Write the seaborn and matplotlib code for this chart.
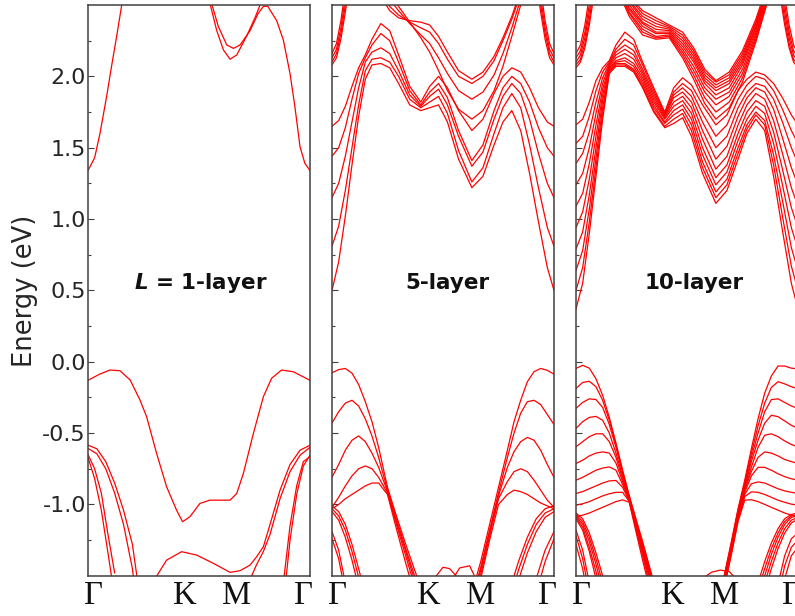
import numpy as np
import pandas as pd
import seaborn as sns
import matplotlib
matplotlib.use("Agg")
import matplotlib.pyplot as plt
from matplotlib.ticker import FixedLocator, FixedFormatter

# ---------------- text / ticks ----------------
k_labels = ["Γ", "K", "M", "Γ"]
k_label_pos = [0.025, 0.435, 0.67, 0.972]
ytick_vals = [-1.0, -0.5, 0.0, 0.5, 1.0, 1.5, 2.0]
ytick_text = ["-1.0", "-0.5", "0.0", "0.5", "1.0", "1.5", "2.0"]
yminor_vals = [-1.25, -0.75, -0.25, 0.25, 0.75, 1.25, 1.75, 2.25]
panel_titles = [r"$\mathbfit{L}$ = 1-layer", "5-layer", "10-layer"]
title_pos = [(0.509, 0.55), (0.518, 0.55), (0.53, 0.55)]

# ================= 1-layer =================
p1_cb_left_k = [0, .03, .054, .084, .106, .129, .155]
p1_cb_left_E = [1.34, 1.43, 1.60, 1.86, 2.07, 2.28, 2.53]
p1_cb_a_k = [.548, .58, .61, .64, .67, .714, .752, .78]
p1_cb_a_E = [2.52, 2.32, 2.185, 2.12, 2.15, 2.28, 2.41, 2.52]
p1_cb_b_k = [.555, .587, .625, .655, .685, .73, .766, .79, .81, .85, .88, .91, .932, .955, .977, 1.0]
p1_cb_b_E = [2.52, 2.35, 2.22, 2.196, 2.22, 2.32, 2.44, 2.49, 2.49, 2.39, 2.254, 2.02, 1.787, 1.507, 1.39, 1.34]

p1_vb_top_k = [0, .054, .099, .144, .19, .234, .264, .309, .354, .399, .426, .459, .504, .549,
               .64, .67, .70, .745, .79, .827, .872, .925, 1.0]
p1_vb_top_E = [-0.13, -0.086, -0.058, -0.063, -0.128, -0.268, -0.385, -0.642, -0.876, -1.04, -1.121,
               -1.086, -0.993, -0.97, -0.97, -0.923, -0.782, -0.502, -0.245, -0.116, -0.058, -0.07, -0.13]
p1_vb_k_k = [.31, .354, .422, .49, .565, .64, .685, .73, .76, .79, .82, .865, .91, .955, 1.0]
p1_vb_k_E = [-1.50, -1.39, -1.331, -1.355, -1.413, -1.476, -1.464, -1.425, -1.366, -1.296,
             -1.14, -0.90, -0.72, -0.62, -0.585]
p1_vb_r2_k = [.737, .76, .79, .82, .865, .91, .955, 1.0]
p1_vb_r2_E = [-1.50, -1.42, -1.33, -1.21, -0.96, -0.77, -0.655, -0.60]
p1_vb_l_k = [0, .04, .08, .12, .16, .20, .22]
p1_vb_l_E = [[-0.584, -0.61, -0.70, -0.85, -1.04, -1.28, -1.50],
             [-0.607, -0.645, -0.75, -0.92, -1.14, -1.45, -1.70]]
p1_vb_sl_k = [0, .03, .06, .09, .12]
p1_vb_sl_E = [[-0.65, -0.75, -0.92, -1.21, -1.48],
              [-0.67, -0.82, -1.04, -1.34, -1.65]]
p1_vb_sr_k = [.88, .91, .94, .97, 1.0]
p1_vb_sr_E = [[-1.70, -1.25, -0.93, -0.73, -0.655],
              [-1.55, -1.15, -0.87, -0.70, -0.665]]

# ================= 5-layer =================
p2_cb_k = [0, .03, .06, .09, .12, .15, .18, .22, .26, .30, .35, .40, .44, .48, .52, .57,
           .63, .68, .73, .77, .81, .85, .89, .93, .97, 1.0]
p2_cb_E = [
    [0.50, 0.70, 1.02, 1.38, 1.72, 1.98, 2.08, 2.09, 2.06, 1.95, 1.80, 1.76, 1.78, 1.80, 1.68, 1.42,
     1.22, 1.30, 1.52, 1.68, 1.76, 1.62, 1.32, 0.98, 0.66, 0.50],
    [0.81, 0.95, 1.20, 1.50, 1.80, 2.04, 2.12, 2.13, 2.10, 2.00, 1.84, 1.78, 1.82, 1.86, 1.74, 1.48,
     1.26, 1.36, 1.60, 1.78, 1.88, 1.78, 1.52, 1.22, 0.94, 0.81],
    [1.15, 1.25, 1.44, 1.68, 1.92, 2.10, 2.17, 2.20, 2.16, 2.04, 1.87, 1.79, 1.86, 1.91, 1.80, 1.58,
     1.37, 1.47, 1.70, 1.86, 1.95, 1.88, 1.70, 1.46, 1.25, 1.15],
    [1.44, 1.50, 1.64, 1.84, 2.02, 2.13, 2.22, 2.30, 2.25, 2.10, 1.90, 1.80, 1.89, 1.95, 1.85, 1.62,
     1.41, 1.52, 1.76, 1.92, 2.00, 1.95, 1.82, 1.64, 1.50, 1.44],
    [1.65, 1.69, 1.79, 1.93, 2.06, 2.15, 2.26, 2.37, 2.32, 2.15, 1.93, 1.82, 1.93, 2.00, 1.92, 1.76,
     1.62, 1.70, 1.88, 2.00, 2.06, 2.03, 1.92, 1.78, 1.68, 1.65],
]
p2_cu_k = [.22, .26, .30, .35, .40, .44, .48, .52, .57, .63, .68, .73, .77, .81, .85]
p2_cu_E = [
    [2.56, 2.46, 2.41, 2.39, 2.38, 2.36, 2.28, 2.17, 2.04, 1.98, 2.03, 2.14, 2.27, 2.42, 2.60],
    [2.60, 2.49, 2.43, 2.38, 2.34, 2.31, 2.23, 2.12, 2.00, 1.95, 2.00, 2.11, 2.25, 2.40, 2.58],
    [2.64, 2.54, 2.46, 2.37, 2.29, 2.23, 2.13, 2.02, 1.90, 1.84, 1.89, 2.01, 2.16, 2.34, 2.54],
    [2.68, 2.58, 2.49, 2.38, 2.27, 2.17, 2.04, 1.90, 1.77, 1.70, 1.76, 1.90, 2.07, 2.28, 2.50],
]
p2_ce_left_k = [0, .02, .04, .06, .08]
p2_ce_right_k = [.92, .94, .96, .98, 1.0]
p2_ce_left_E = [[2.08, 2.13, 2.26, 2.45, 2.66],
                [2.10, 2.16, 2.30, 2.50, 2.72],
                [2.13, 2.19, 2.34, 2.55, 2.78],
                [2.16, 2.23, 2.39, 2.61, 2.84]]
p2_ce_right_E = [[2.66, 2.45, 2.26, 2.13, 2.08],
                 [2.72, 2.50, 2.30, 2.16, 2.10],
                 [2.78, 2.55, 2.34, 2.19, 2.13],
                 [2.84, 2.61, 2.39, 2.23, 2.16]]

p2_vl_k = [0, .03, .06, .09, .12, .15, .18, .21, .25, .29, .33, .37, .40]
p2_vl_E = [
    [-0.077, -0.055, -0.047, -0.08, -0.16, -0.28, -0.42, -0.60, -0.88, -1.08, -1.27, -1.45, -1.58],
    [-0.43, -0.35, -0.29, -0.27, -0.31, -0.40, -0.52, -0.67, -0.90, -1.10, -1.30, -1.49, -1.62],
    [-0.81, -0.72, -0.62, -0.55, -0.52, -0.56, -0.64, -0.74, -0.91, -1.12, -1.32, -1.52, -1.66],
    [-1.02, -0.95, -0.87, -0.80, -0.75, -0.73, -0.75, -0.81, -0.92, -1.14, -1.35, -1.56, -1.70],
    [-1.03, -1.00, -0.96, -0.93, -0.90, -0.87, -0.85, -0.85, -0.93, -1.17, -1.40, -1.62, -1.78],
]
p2_vr_k = [.60, .63, .67, .71, .75, .79, .82, .85, .88, .91, .94, .97, 1.0]
p2_vr_E = [
    [-1.75, -1.62, -1.40, -1.14, -0.88, -0.62, -0.42, -0.27, -0.14, -0.07, -0.047, -0.06, -0.087],
    [-1.80, -1.66, -1.44, -1.18, -0.92, -0.67, -0.50, -0.36, -0.28, -0.27, -0.30, -0.37, -0.44],
    [-1.84, -1.69, -1.46, -1.20, -0.94, -0.74, -0.63, -0.56, -0.53, -0.55, -0.62, -0.72, -0.81],
    [-1.88, -1.72, -1.49, -1.22, -0.96, -0.84, -0.77, -0.75, -0.77, -0.83, -0.90, -0.97, -1.02],
    [-1.92, -1.76, -1.52, -1.25, -1.00, -0.93, -0.90, -0.91, -0.93, -0.96, -0.99, -1.01, -1.03],
]
p2_vlow_left_k = [0, .03, .06, .09, .12, .15]
p2_vlow_left_E = [[-1.01, -1.05, -1.14, -1.28, -1.45, -1.63],
                  [-1.03, -1.08, -1.18, -1.33, -1.51, -1.70],
                  [-1.05, -1.11, -1.23, -1.39, -1.58, -1.78],
                  [-1.19, -1.32, -1.55, -1.80, -2.05, -2.30],
                  [-1.24, -1.38, -1.62, -1.90, -2.15, -2.40]]
p2_vlow_right_k = [.80, .84, .88, .92, .96, 1.0]
p2_vlow_right_E = [[-1.60, -1.40, -1.23, -1.10, -1.03, -1.01],
                   [-1.67, -1.46, -1.28, -1.14, -1.06, -1.03],
                   [-1.75, -1.53, -1.34, -1.19, -1.09, -1.05],
                   [-2.40, -2.10, -1.80, -1.52, -1.32, -1.19],
                   [-2.50, -2.20, -1.90, -1.62, -1.40, -1.24]]
p2_km1_k = [.46, .50, .53, .57]
p2_km1_E = [-1.52, -1.44, -1.45, -1.52]
p2_km2_k = [.545, .575, .62, .66]
p2_km2_E = [-1.52, -1.445, -1.43, -1.56]

# ================= 10-layer =================
p3_cb_k = p2_cb_k
p3_cb_E = [
    [0.37, 0.55, 0.90, 1.30, 1.70, 2.02, 2.07, 2.07, 2.03, 1.92, 1.75, 1.64, 1.67, 1.71, 1.58, 1.32,
     1.11, 1.20, 1.42, 1.60, 1.70, 1.62, 1.30, 0.92, 0.55, 0.37],
    [0.50, 0.66, 0.98, 1.36, 1.74, 2.03, 2.08, 2.08, 2.04, 1.93, 1.76, 1.65, 1.70, 1.74, 1.62, 1.36,
     1.15, 1.24, 1.46, 1.63, 1.73, 1.66, 1.38, 1.02, 0.67, 0.50],
    [0.64, 0.78, 1.07, 1.43, 1.78, 2.04, 2.09, 2.09, 2.05, 1.95, 1.78, 1.67, 1.73, 1.77, 1.66, 1.40,
     1.19, 1.28, 1.50, 1.66, 1.75, 1.69, 1.45, 1.13, 0.80, 0.64],
    [0.79, 0.91, 1.17, 1.50, 1.83, 2.05, 2.10, 2.11, 2.07, 1.97, 1.80, 1.68, 1.76, 1.80, 1.70, 1.45,
     1.24, 1.33, 1.55, 1.70, 1.79, 1.74, 1.53, 1.24, 0.94, 0.79],
    [0.94, 1.05, 1.28, 1.58, 1.87, 2.06, 2.11, 2.13, 2.09, 1.99, 1.82, 1.70, 1.79, 1.83, 1.74, 1.50,
     1.29, 1.38, 1.60, 1.75, 1.83, 1.79, 1.61, 1.35, 1.08, 0.94],
    [1.09, 1.18, 1.39, 1.66, 1.91, 2.07, 2.13, 2.16, 2.12, 2.01, 1.84, 1.71, 1.82, 1.86, 1.78, 1.56,
     1.35, 1.44, 1.66, 1.80, 1.88, 1.84, 1.69, 1.46, 1.22, 1.09],
    [1.24, 1.32, 1.50, 1.74, 1.95, 2.08, 2.15, 2.19, 2.15, 2.03, 1.86, 1.72, 1.85, 1.89, 1.82, 1.62,
     1.42, 1.51, 1.72, 1.85, 1.92, 1.89, 1.77, 1.57, 1.36, 1.24],
    [1.39, 1.46, 1.61, 1.82, 1.99, 2.09, 2.17, 2.22, 2.18, 2.05, 1.88, 1.73, 1.87, 1.92, 1.86, 1.68,
     1.50, 1.58, 1.78, 1.89, 1.95, 1.93, 1.84, 1.68, 1.50, 1.39],
    [1.53, 1.58, 1.72, 1.90, 2.03, 2.10, 2.19, 2.26, 2.22, 2.08, 1.90, 1.74, 1.89, 1.95, 1.90, 1.74,
     1.58, 1.66, 1.84, 1.94, 2.00, 1.98, 1.90, 1.77, 1.62, 1.53],
    [1.66, 1.70, 1.82, 1.97, 2.06, 2.11, 2.22, 2.31, 2.26, 2.10, 1.92, 1.75, 1.92, 1.99, 1.94, 1.80,
     1.66, 1.73, 1.90, 1.98, 2.03, 2.01, 1.95, 1.85, 1.73, 1.66],
]
p3_cu_k = [.18, .24, .30, .36, .42, .48, .53, .58, .63, .69, .75, .81, .87]
p3_cu_E = [
    [2.72, 2.56, 2.46, 2.41, 2.36, 2.31, 2.20, 2.05, 1.97, 2.03, 2.18, 2.40, 2.68],
    [2.71, 2.55, 2.44, 2.39, 2.35, 2.29, 2.18, 2.03, 1.96, 2.01, 2.16, 2.38, 2.66],
    [2.70, 2.53, 2.42, 2.37, 2.34, 2.27, 2.16, 2.01, 1.94, 1.99, 2.14, 2.37, 2.65],
    [2.69, 2.52, 2.40, 2.35, 2.33, 2.25, 2.14, 1.99, 1.92, 1.97, 2.12, 2.35, 2.64],
    [2.68, 2.50, 2.38, 2.33, 2.32, 2.23, 2.12, 1.97, 1.90, 1.95, 2.10, 2.34, 2.63],
    [2.67, 2.48, 2.37, 2.31, 2.31, 2.21, 2.10, 1.95, 1.87, 1.92, 2.08, 2.32, 2.62],
    [2.66, 2.47, 2.35, 2.30, 2.30, 2.19, 2.07, 1.92, 1.84, 1.89, 2.05, 2.30, 2.60],
    [2.65, 2.45, 2.33, 2.28, 2.29, 2.17, 2.04, 1.89, 1.80, 1.86, 2.02, 2.28, 2.59],
    [2.64, 2.44, 2.31, 2.27, 2.28, 2.15, 2.01, 1.85, 1.75, 1.82, 1.99, 2.26, 2.58],
    [2.63, 2.42, 2.29, 2.26, 2.27, 2.13, 1.98, 1.81, 1.70, 1.78, 1.96, 2.24, 2.56],
]
p3_ce_left_k = [0, .02, .04, .06, .08]
p3_ce_right_k = [.92, .94, .96, .98, 1.0]
p3_ce_left_E = [[2.06, 2.10, 2.20, 2.36, 2.56],
                [2.08, 2.12, 2.23, 2.40, 2.61],
                [2.10, 2.15, 2.27, 2.45, 2.66],
                [2.13, 2.18, 2.31, 2.50, 2.72],
                [2.16, 2.22, 2.36, 2.56, 2.78]]
p3_ce_right_E = [[2.56, 2.36, 2.20, 2.10, 2.06],
                 [2.61, 2.40, 2.23, 2.12, 2.08],
                 [2.66, 2.45, 2.27, 2.15, 2.10],
                 [2.72, 2.50, 2.31, 2.18, 2.13],
                 [2.78, 2.56, 2.36, 2.22, 2.16]]

p3_vl_k = [0, .03, .06, .09, .12, .15, .18, .21, .24, .27, .30, .33, .36, .39]
p3_vl_E = [
    [-0.047, -0.025, -0.045, -0.12, -0.235, -0.39, -0.57, -0.76, -0.94, -1.10, -1.26, -1.43, -1.60, -1.77],
    [-0.187, -0.145, -0.137, -0.175, -0.27, -0.41, -0.58, -0.77, -0.945, -1.11, -1.27, -1.44, -1.61, -1.78],
    [-0.327, -0.285, -0.26, -0.265, -0.32, -0.44, -0.60, -0.78, -0.95, -1.12, -1.28, -1.45, -1.62, -1.79],
    [-0.467, -0.42, -0.39, -0.383, -0.41, -0.50, -0.64, -0.80, -0.955, -1.12, -1.29, -1.46, -1.63, -1.80],
    [-0.596, -0.56, -0.525, -0.505, -0.505, -0.56, -0.67, -0.82, -0.96, -1.13, -1.30, -1.47, -1.64, -1.81],
    [-0.713, -0.69, -0.66, -0.64, -0.632, -0.64, -0.71, -0.84, -0.965, -1.14, -1.31, -1.48, -1.66, -1.83],
    [-0.83, -0.81, -0.785, -0.76, -0.745, -0.737, -0.76, -0.86, -0.97, -1.15, -1.32, -1.50, -1.68, -1.85],
    [-0.923, -0.91, -0.89, -0.87, -0.85, -0.835, -0.832, -0.88, -0.975, -1.16, -1.34, -1.52, -1.70, -1.87],
    [-1.005, -0.995, -0.98, -0.96, -0.94, -0.925, -0.915, -0.915, -0.98, -1.17, -1.36, -1.55, -1.73, -1.90],
    [-1.086, -1.075, -1.06, -1.04, -1.02, -1.00, -0.98, -0.968, -0.985, -1.19, -1.39, -1.58, -1.77, -1.95],
]
p3_vr_k = [.61, .64, .67, .70, .73, .76, .79, .82, .85, .88, .91, .94, .97, 1.0]
p3_vr_E = [
    [-1.88, -1.68, -1.48, -1.26, -1.03, -0.83, -0.61, -0.40, -0.22, -0.10, -0.03, -0.03, -0.045, -0.05],
    [-1.89, -1.69, -1.49, -1.27, -1.04, -0.85, -0.64, -0.45, -0.29, -0.18, -0.14, -0.155, -0.175, -0.19],
    [-1.90, -1.70, -1.50, -1.28, -1.05, -0.87, -0.67, -0.50, -0.35, -0.265, -0.26, -0.285, -0.31, -0.327],
    [-1.91, -1.71, -1.51, -1.29, -1.06, -0.88, -0.70, -0.55, -0.43, -0.375, -0.385, -0.415, -0.445, -0.467],
    [-1.92, -1.72, -1.52, -1.30, -1.07, -0.89, -0.74, -0.60, -0.515, -0.505, -0.525, -0.555, -0.58, -0.596],
    [-1.93, -1.73, -1.53, -1.31, -1.08, -0.90, -0.77, -0.67, -0.632, -0.64, -0.66, -0.685, -0.70, -0.713],
    [-1.94, -1.74, -1.54, -1.32, -1.09, -0.915, -0.80, -0.74, -0.74, -0.76, -0.785, -0.805, -0.82, -0.83],
    [-1.95, -1.75, -1.55, -1.33, -1.10, -0.93, -0.855, -0.842, -0.85, -0.87, -0.89, -0.905, -0.915, -0.923],
    [-1.96, -1.76, -1.56, -1.34, -1.11, -0.945, -0.912, -0.915, -0.93, -0.95, -0.97, -0.985, -0.998, -1.005],
    [-1.97, -1.77, -1.57, -1.35, -1.12, -0.97, -0.967, -0.98, -1.00, -1.02, -1.04, -1.06, -1.075, -1.086],
]
p3_vlow_left_k = [0, .03, .06, .09, .12, .15]
p3_vlow_left_E = [[-1.06, -1.10, -1.20, -1.34, -1.50, -1.68],
                  [-1.07, -1.12, -1.23, -1.38, -1.55, -1.74],
                  [-1.08, -1.14, -1.26, -1.42, -1.60, -1.80],
                  [-1.09, -1.16, -1.30, -1.47, -1.66, -1.87],
                  [-1.10, -1.18, -1.33, -1.52, -1.73, -1.95],
                  [-1.18, -1.32, -1.55, -1.80, -2.05, -2.30],
                  [-1.22, -1.38, -1.62, -1.90, -2.15, -2.40],
                  [-1.28, -1.45, -1.70, -2.00, -2.30, -2.60]]
p3_vlow_right_k = [.82, .85, .88, .91, .94, .97, 1.0]
p3_vlow_right_E = [[-1.55, -1.40, -1.27, -1.17, -1.10, -1.07, -1.06],
                   [-1.60, -1.45, -1.31, -1.20, -1.12, -1.08, -1.07],
                   [-1.66, -1.50, -1.35, -1.23, -1.14, -1.09, -1.08],
                   [-1.72, -1.55, -1.40, -1.27, -1.17, -1.11, -1.09],
                   [-1.78, -1.61, -1.45, -1.31, -1.20, -1.13, -1.10],
                   [-2.30, -2.05, -1.80, -1.56, -1.36, -1.24, -1.20],
                   [-2.40, -2.15, -1.90, -1.65, -1.43, -1.30, -1.25],
                   [-2.50, -2.25, -2.00, -1.74, -1.52, -1.36, -1.30]]
p3_km_k = [.57, .61, .65, .69, .72]
p3_km_E = [-1.52, -1.475, -1.46, -1.47, -1.52]

# ---------------- style ----------------
sns.set_theme(style="white")
plt.rcParams["font.family"] = ["DejaVu Sans"]
plt.rcParams["axes.unicode_minus"] = False
RED = "#ff0000"
LW = 0.9
SPINE = "#404040"

fig = plt.figure(figsize=(7.95, 6.16), dpi=100)
bottom, height = 0.06526, 0.92662
lefts = [88 / 795, 332 / 795, 576 / 795]
width = 222 / 795
axes = [fig.add_axes([l, bottom, width, height]) for l in lefts]


def draw(ax, k, bands):
    if not isinstance(bands[0], (list, tuple)):
        bands = [bands]
    rows = [(i, kk, ee) for i, b in enumerate(bands) for kk, ee in zip(k, b)]
    df = pd.DataFrame(rows, columns=["band", "k", "E"])
    sns.lineplot(data=df, x="k", y="E", units="band", estimator=None, sort=False,
                 color=RED, linewidth=LW, ax=ax, legend=False)


ax1, ax2, ax3 = axes
# panel 1
draw(ax1, p1_cb_left_k, p1_cb_left_E)
draw(ax1, p1_cb_a_k, p1_cb_a_E)
draw(ax1, p1_cb_b_k, p1_cb_b_E)
draw(ax1, p1_vb_top_k, p1_vb_top_E)
draw(ax1, p1_vb_k_k, p1_vb_k_E)
draw(ax1, p1_vb_r2_k, p1_vb_r2_E)
draw(ax1, p1_vb_l_k, p1_vb_l_E)
draw(ax1, p1_vb_sl_k, p1_vb_sl_E)
draw(ax1, p1_vb_sr_k, p1_vb_sr_E)
# panel 2
draw(ax2, p2_cb_k, p2_cb_E)
draw(ax2, p2_cu_k, p2_cu_E)
draw(ax2, p2_ce_left_k, p2_ce_left_E)
draw(ax2, p2_ce_right_k, p2_ce_right_E)
draw(ax2, p2_vl_k, p2_vl_E)
draw(ax2, p2_vr_k, p2_vr_E)
draw(ax2, p2_vlow_left_k, p2_vlow_left_E)
draw(ax2, p2_vlow_right_k, p2_vlow_right_E)
draw(ax2, p2_km1_k, p2_km1_E)
draw(ax2, p2_km2_k, p2_km2_E)
# panel 3
draw(ax3, p3_cb_k, p3_cb_E)
draw(ax3, p3_cu_k, p3_cu_E)
draw(ax3, p3_ce_left_k, p3_ce_left_E)
draw(ax3, p3_ce_right_k, p3_ce_right_E)
draw(ax3, p3_vl_k, p3_vl_E)
draw(ax3, p3_vr_k, p3_vr_E)
draw(ax3, p3_vlow_left_k, p3_vlow_left_E)
draw(ax3, p3_vlow_right_k, p3_vlow_right_E)
draw(ax3, p3_km_k, p3_km_E)

for i, ax in enumerate(axes):
    ax.set_xlim(0, 1)
    ax.set_ylim(-1.5, 2.5)
    ax.set_xlabel("")
    ax.set_ylabel("")
    for s in ax.spines.values():
        s.set_color(SPINE)
        s.set_linewidth(1.1)
    ax.xaxis.set_major_locator(FixedLocator(k_label_pos))
    ax.xaxis.set_major_formatter(FixedFormatter(k_labels))
    ax.tick_params(axis="x", length=0, pad=3.5, labelsize=23.5, labelcolor="#111111")
    for t in ax.get_xticklabels():
        t.set_fontfamily("Liberation Serif")
    ax.yaxis.set_major_locator(FixedLocator(ytick_vals))
    ax.yaxis.set_minor_locator(FixedLocator(yminor_vals))
    ax.tick_params(axis="y", which="both", direction="in", left=True, right=False,
                   color=SPINE, width=0.8)
    ax.tick_params(axis="y", which="major", length=4.2, pad=1.5, labelsize=16,
                   labelcolor="#262626")
    ax.tick_params(axis="y", which="minor", length=2.4)
    if i == 0:
        ax.yaxis.set_major_formatter(FixedFormatter(ytick_text))
    else:
        ax.set_yticklabels([])
    tx, ty = title_pos[i]
    ax.text(tx, ty, panel_titles[i], transform=ax.get_xaxis_transform() if False else ax.transData,
            ha="center", va="center", fontsize=15.5, fontweight="bold", color="#111111")

fig.text(25 / 795, 1 - 291 / 616, "Energy (eV)", rotation=90, ha="center", va="center",
         fontsize=18.5, color="#262626")

fig.savefig("out.png", dpi=100)
